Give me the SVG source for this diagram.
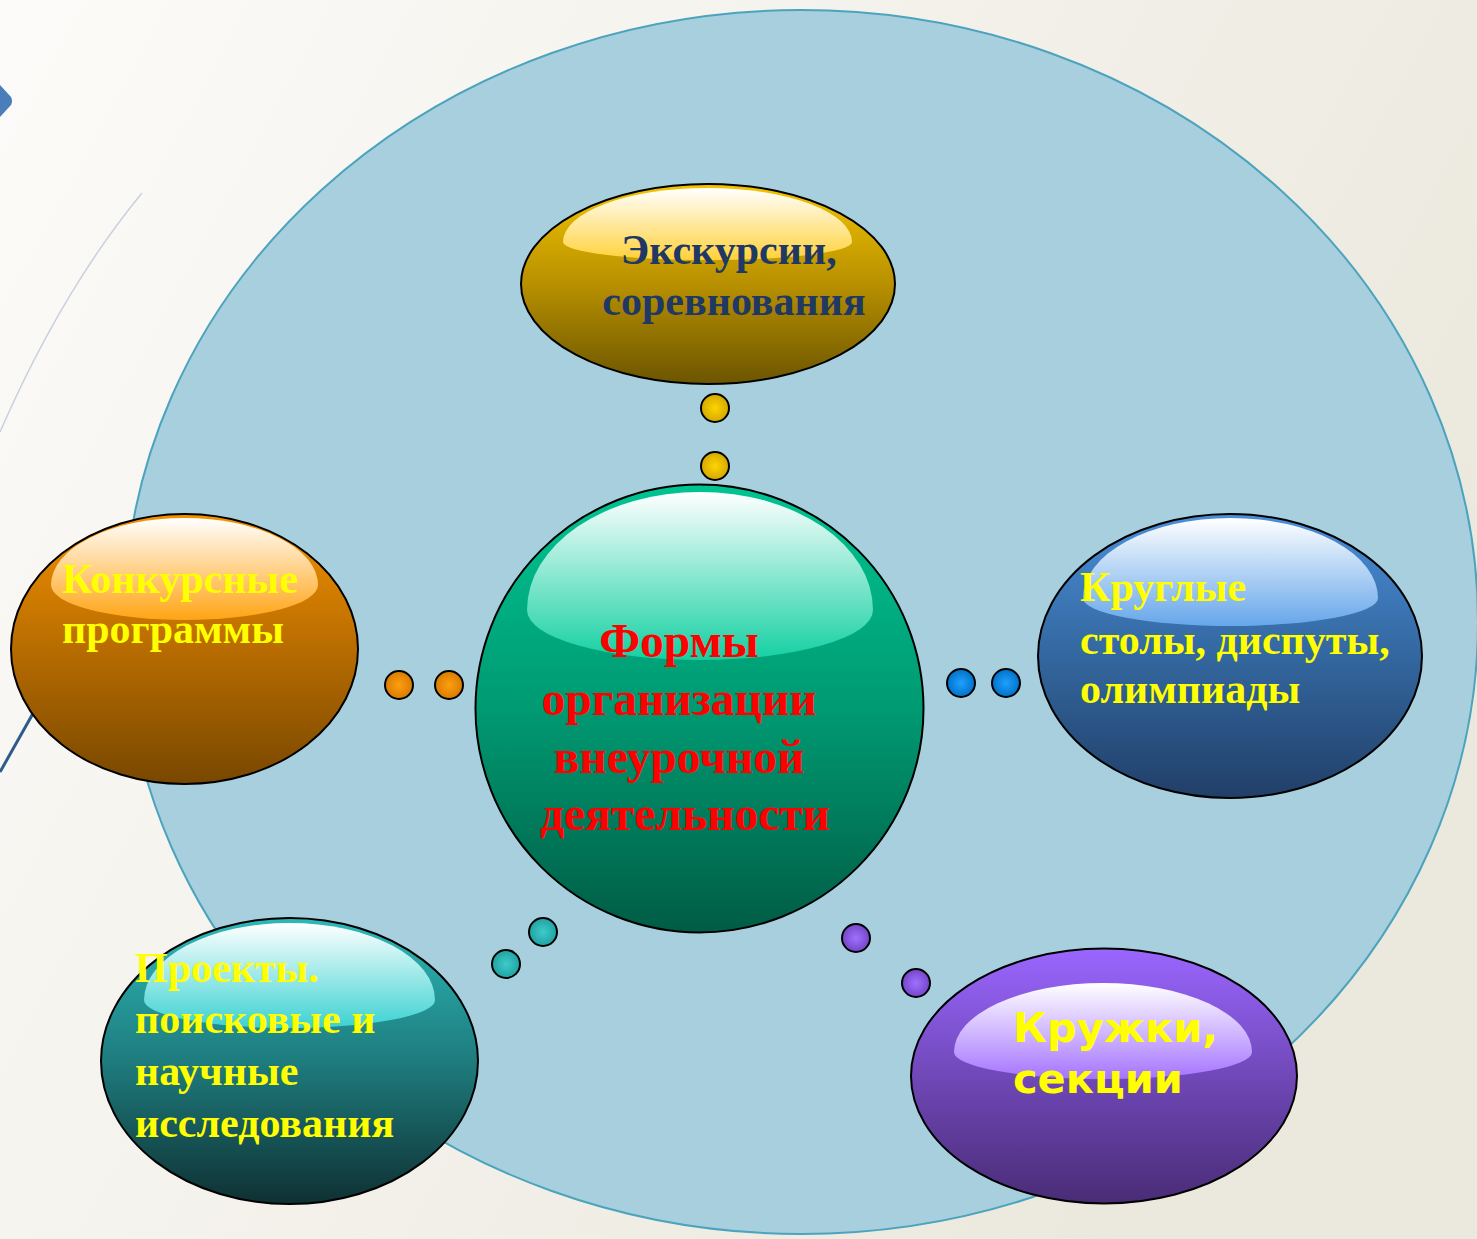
<svg xmlns="http://www.w3.org/2000/svg" width="1477" height="1239" viewBox="0 0 1477 1239">
  <defs>
    <linearGradient id="bg" x1="0" y1="0" x2="1" y2="0.45">
      <stop offset="0" stop-color="#FCFBF9"/>
      <stop offset="1" stop-color="#EBE8DD"/>
    </linearGradient>
    <linearGradient id="gYellow" x1="0" y1="0" x2="0" y2="1">
      <stop offset="0" stop-color="#F2C400"/>
      <stop offset="0.5" stop-color="#B89000"/>
      <stop offset="1" stop-color="#6C5500"/>
    </linearGradient>
    <linearGradient id="gGreen" x1="0" y1="0" x2="0" y2="1">
      <stop offset="0" stop-color="#00C492"/>
      <stop offset="0.5" stop-color="#009A72"/>
      <stop offset="1" stop-color="#005C45"/>
    </linearGradient>
    <linearGradient id="gOrange" x1="0" y1="0" x2="0" y2="1">
      <stop offset="0" stop-color="#F29200"/>
      <stop offset="0.5" stop-color="#B86C00"/>
      <stop offset="1" stop-color="#784700"/>
    </linearGradient>
    <linearGradient id="gBlue" x1="0" y1="0" x2="0" y2="1">
      <stop offset="0" stop-color="#4A8ED8"/>
      <stop offset="0.5" stop-color="#33679F"/>
      <stop offset="1" stop-color="#213F68"/>
    </linearGradient>
    <linearGradient id="gTeal" x1="0" y1="0" x2="0" y2="1">
      <stop offset="0" stop-color="#2DB8B8"/>
      <stop offset="0.5" stop-color="#1E7C7E"/>
      <stop offset="1" stop-color="#0F3032"/>
    </linearGradient>
    <linearGradient id="gPurple" x1="0" y1="0" x2="0" y2="1">
      <stop offset="0" stop-color="#9A66FF"/>
      <stop offset="0.5" stop-color="#7048B8"/>
      <stop offset="1" stop-color="#492C76"/>
    </linearGradient>
    <linearGradient id="hYellow" x1="0" y1="0" x2="0" y2="1">
      <stop offset="0" stop-color="#FFFFFF"/>
      <stop offset="1" stop-color="#FFD23A"/>
    </linearGradient>
    <linearGradient id="hGreen" x1="0" y1="0" x2="0" y2="1">
      <stop offset="0" stop-color="#FFFFFF"/>
      <stop offset="1" stop-color="#14D0A2"/>
    </linearGradient>
    <linearGradient id="hOrange" x1="0" y1="0" x2="0" y2="1">
      <stop offset="0" stop-color="#FFFFFF"/>
      <stop offset="1" stop-color="#FFA414"/>
    </linearGradient>
    <linearGradient id="hBlue" x1="0" y1="0" x2="0" y2="1">
      <stop offset="0" stop-color="#FFFFFF"/>
      <stop offset="1" stop-color="#66A6EA"/>
    </linearGradient>
    <linearGradient id="hTeal" x1="0" y1="0" x2="0" y2="1">
      <stop offset="0" stop-color="#FFFFFF"/>
      <stop offset="1" stop-color="#3CD2D2"/>
    </linearGradient>
    <linearGradient id="hPurple" x1="0" y1="0" x2="0" y2="1">
      <stop offset="0" stop-color="#FFFFFF"/>
      <stop offset="1" stop-color="#A574FF"/>
    </linearGradient>
    <radialGradient id="dYellow"><stop offset="0" stop-color="#FFD400"/><stop offset="1" stop-color="#D4A800"/></radialGradient>
    <radialGradient id="dOrange"><stop offset="0" stop-color="#FF9E10"/><stop offset="1" stop-color="#D87C00"/></radialGradient>
    <radialGradient id="dBlue"><stop offset="0" stop-color="#1FA0FF"/><stop offset="1" stop-color="#0072C8"/></radialGradient>
    <radialGradient id="dTeal"><stop offset="0" stop-color="#40CACA"/><stop offset="1" stop-color="#1FA2A2"/></radialGradient>
    <radialGradient id="dPurple"><stop offset="0" stop-color="#A070FF"/><stop offset="1" stop-color="#7446C8"/></radialGradient>
  </defs>
  <style>
    .shape { stroke: #000000; stroke-width: 2; }
    .dot { stroke: #000000; stroke-width: 2; }
    .serif { font-family: "Liberation Serif", "Times New Roman", serif; font-weight: bold; }
    .sans { font-family: "DejaVu Sans", Verdana, sans-serif; font-weight: bold; }
    .yel { fill: #FFFF00; }
  </style>

  <rect x="0" y="0" width="1477" height="1239" fill="url(#bg)"/>

  <g id="decor">
    <path d="M142,193 Q62,290 0,432" fill="none" stroke="#C9D1DD" stroke-width="1.5"/>
    <path d="M0,85 L11,97 Q13,101 11,105 L0,117 Z" fill="#4A7EBB"/>
    <line x1="0" y1="772" x2="62" y2="662" stroke="#2E5A8E" stroke-width="3"/>
  </g>

  <g id="background-circle">
    <ellipse cx="801" cy="622" rx="677" ry="612" fill="#A8CFDD" stroke="#4BA3BD" stroke-width="2"/>
  </g>

  <g id="connectors">
    <circle class="dot" cx="715" cy="408" r="14" fill="url(#dYellow)"/>
    <circle class="dot" cx="715" cy="466" r="14" fill="url(#dYellow)"/>
    <circle class="dot" cx="399" cy="685" r="14" fill="url(#dOrange)"/>
    <circle class="dot" cx="449" cy="685" r="14" fill="url(#dOrange)"/>
    <circle class="dot" cx="961" cy="683" r="14" fill="url(#dBlue)"/>
    <circle class="dot" cx="1006" cy="683" r="14" fill="url(#dBlue)"/>
    <circle class="dot" cx="543" cy="932" r="14" fill="url(#dTeal)"/>
    <circle class="dot" cx="506" cy="964" r="14" fill="url(#dTeal)"/>
    <circle class="dot" cx="856" cy="938" r="14" fill="url(#dPurple)"/>
    <circle class="dot" cx="916" cy="983" r="14" fill="url(#dPurple)"/>
  </g>

  <g id="node-excursions">
    <ellipse class="shape" cx="708" cy="284" rx="187" ry="100" fill="url(#gYellow)"/>
    <path d="M563,242 A144.5,54 0 0 1 852,242 A144.5,18 0 0 1 563,242 Z" fill="url(#hYellow)"/>
    <text class="serif" font-size="42" fill="#1F3864" text-anchor="middle">
      <tspan x="734" y="264">Экскурсии,</tspan>
      <tspan x="734" y="315">соревнования</tspan>
    </text>
  </g>

  <g id="node-center">
    <circle class="shape" cx="699.5" cy="708.5" r="224" fill="url(#gGreen)"/>
    <path d="M527,610 A173,118 0 0 1 873,610 A173,50 0 0 1 527,610 Z" fill="url(#hGreen)"/>
    <text class="serif" font-size="47.5" fill="#FF0000" text-anchor="middle">
      <tspan x="685" y="657">Формы</tspan>
      <tspan x="685" y="715">организации</tspan>
      <tspan x="685" y="773">внеурочной</tspan>
      <tspan x="685" y="830">деятельности</tspan>
    </text>
  </g>

  <g id="node-contests">
    <ellipse class="shape" cx="184.5" cy="649" rx="173.5" ry="135" fill="url(#gOrange)"/>
    <path d="M51,585 A133.5,67 0 0 1 318,585 A133.5,35 0 0 1 51,585 Z" fill="url(#hOrange)"/>
    <text class="serif yel" font-size="42">
      <tspan x="62" y="593">Конкурсные</tspan>
      <tspan x="62" y="643">программы</tspan>
    </text>
  </g>

  <g id="node-roundtables">
    <ellipse class="shape" cx="1230" cy="656" rx="192" ry="142" fill="url(#gBlue)"/>
    <path d="M1083,598 A147.5,80 0 0 1 1378,598 A147.5,28 0 0 1 1083,598 Z" fill="url(#hBlue)"/>
    <text class="serif yel" font-size="42">
      <tspan x="1080" y="601">Круглые</tspan>
      <tspan x="1080" y="654">столы, диспуты,</tspan>
      <tspan x="1080" y="703">олимпиады</tspan>
    </text>
  </g>

  <g id="node-projects">
    <ellipse class="shape" cx="289.5" cy="1061" rx="188.5" ry="143" fill="url(#gTeal)"/>
    <path d="M144,1000 A145.5,77 0 0 1 435,1000 A145.5,28 0 0 1 144,1000 Z" fill="url(#hTeal)"/>
    <text class="serif yel" font-size="42">
      <tspan x="135" y="982">Проекты.</tspan>
      <tspan x="135" y="1033">поисковые и</tspan>
      <tspan x="135" y="1085">научные</tspan>
      <tspan x="135" y="1137">исследования</tspan>
    </text>
  </g>

  <g id="node-clubs">
    <ellipse class="shape" cx="1104" cy="1076" rx="193" ry="127.5" fill="url(#gPurple)"/>
    <path d="M954,1052 A149,69 0 0 1 1252,1052 A149,27 0 0 1 954,1052 Z" fill="url(#hPurple)"/>
    <text class="sans yel" font-size="41.5">
      <tspan x="1013" y="1042">Кружки,</tspan>
      <tspan x="1013" y="1093">секции</tspan>
    </text>
  </g>
</svg>
